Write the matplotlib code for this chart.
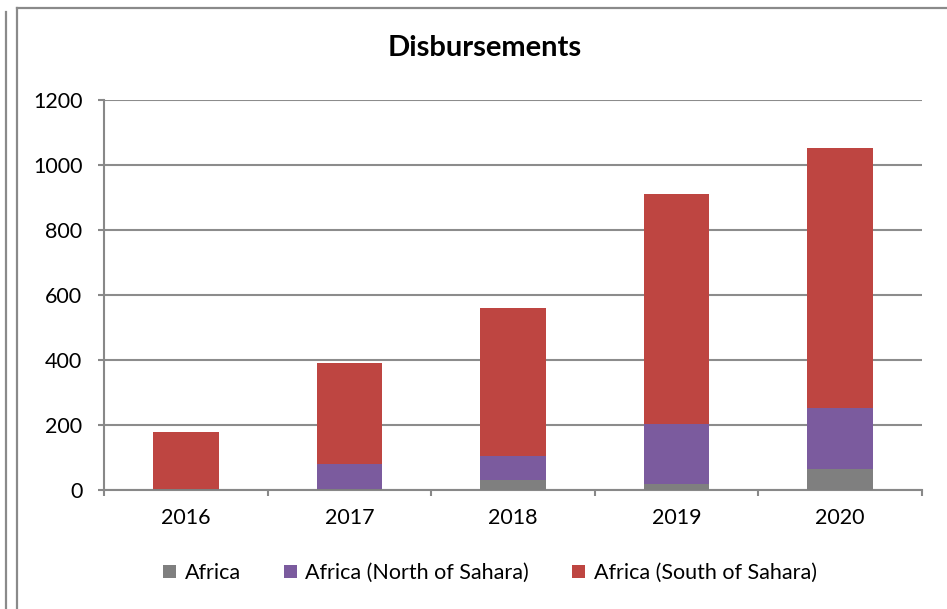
import matplotlib
matplotlib.use("Agg")
import matplotlib.pyplot as plt
from matplotlib.lines import Line2D
import numpy as np

plt.rcParams['font.family'] = ['Lato', 'DejaVu Sans']

years = ['2016', '2017', '2018', '2019', '2020']
africa = [2, 3, 31, 18, 64]
north = [0, 77, 74, 185, 189]
south = [176, 312, 455, 708, 799]
series_names = ['Africa', 'Africa (North of Sahara)', 'Africa (South of Sahara)']
colors = ['#7F7F7F', '#7B5B9E', '#BE4541']
yticks = [0, 200, 400, 600, 800, 1000, 1200]

W, H = 947, 609
fig = plt.figure(figsize=(W / 100, H / 100), dpi=100)
ax = fig.add_axes([104 / W, 1 - 490 / H, (922 - 104) / W, (490 - 100) / H])

x = np.arange(len(years))
bw = 0.4
b1 = ax.bar(x, africa, bw, color=colors[0], label=series_names[0], zorder=3)
b2 = ax.bar(x, north, bw, bottom=africa, color=colors[1], label=series_names[1], zorder=3)
bottom2 = np.array(africa) + np.array(north)
b3 = ax.bar(x, south, bw, bottom=bottom2, color=colors[2], label=series_names[2], zorder=3)

ax.set_xlim(-0.5, len(years) - 0.5)
ax.set_ylim(0, 1200)
ax.set_yticks(yticks)
ax.set_yticklabels([str(v) for v in yticks], fontsize=15.5)
ax.set_xticks(x)
ax.set_xticklabels(years, fontsize=15.5)
ax.tick_params(axis='x', length=0, pad=13)
ax.set_xticks(np.arange(-0.5, len(years), 1.0), minor=True)
ax.tick_params(axis='x', which='minor', length=4.5, width=1.5, color='#888888', direction='out')
ax.tick_params(axis='y', length=4.5, width=1.5, color='#888888', direction='out', pad=11)

gridc = '#8C8C8C'
ax.yaxis.grid(True, color=gridc, linewidth=1.5, zorder=0)
ax.set_axisbelow(True)
for s in ['top', 'right']:
    ax.spines[s].set_visible(False)
for s in ['left', 'bottom']:
    ax.spines[s].set_color('#888888')
    ax.spines[s].set_linewidth(1.5)

fig.text(485 / W, 1 - 48 / H, 'Disbursements', ha='center', va='center',
         fontsize=21, fontweight='bold')

fig.legend(handles=[b1, b2, b3], labels=series_names, loc='center',
           bbox_to_anchor=(490 / W, 1 - 573 / H), ncol=3, frameon=False,
           fontsize=15.5, handlelength=0.6, handleheight=0.6, handletextpad=0.4,
           columnspacing=2.0)

# outer frames
fc = '#8A8A8A'
fig.add_artist(Line2D([17 / W, 17 / W], [0, 1 - 8 / H], color=fc, lw=1.6, transform=fig.transFigure))
fig.add_artist(Line2D([17 / W, 1], [1 - 8 / H, 1 - 8 / H], color=fc, lw=1.6, transform=fig.transFigure))
fig.add_artist(Line2D([6 / W, 6 / W], [0, 1 - 12 / H], color=fc, lw=1.6, transform=fig.transFigure))

fig.savefig('out.png', dpi=100, facecolor='white')
